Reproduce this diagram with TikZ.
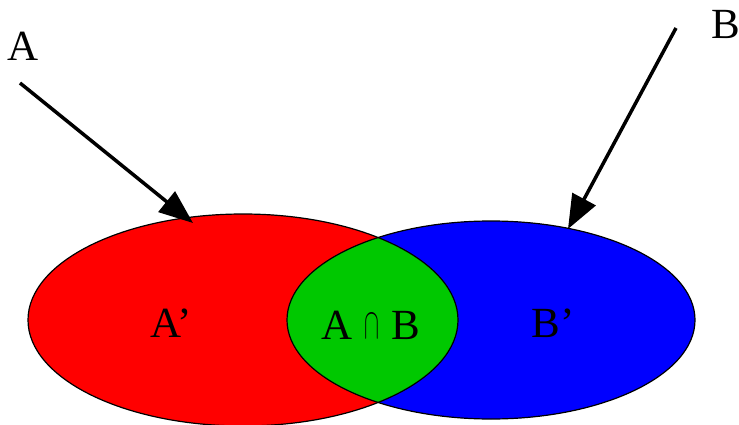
\documentclass[tikz,border=0pt]{standalone}
\usepackage{fontspec}
\setmainfont{Liberation Serif}
\usetikzlibrary{arrows.meta}

\definecolor{setred}{RGB}{255,0,0}
\definecolor{setblue}{RGB}{0,0,255}
\definecolor{setgreen}{RGB}{0,200,0}

\tikzset{
  setlabel/.style={font=\fontsize{43}{45}\selectfont, inner sep=0pt},
  outerlabel/.style={font=\fontsize{43}{45}\selectfont, inner sep=0pt},
  pointer/.style={line width=3.5pt, -{Triangle[length=34pt,width=26pt]}},
  rim/.style={draw=black, line width=1.2pt}
}

\begin{document}
\begin{tikzpicture}[x=1pt,y=-1pt]
  \useasboundingbox (0,0) rectangle (739,425);
  \coordinate (cA) at (243,320);
  \coordinate (cB) at (491,320);

  \fill[setred] (cA) ellipse [x radius=215pt, y radius=106pt];
  \fill[setblue] (cB) ellipse [x radius=204pt, y radius=99pt];
  \begin{scope}
    \clip (cA) ellipse [x radius=215pt, y radius=106pt];
    \fill[setgreen] (cB) ellipse [x radius=204pt, y radius=99pt];
  \end{scope}
  \draw[rim] (cA) ellipse [x radius=215pt, y radius=106pt];
  \draw[rim] (cB) ellipse [x radius=204pt, y radius=99pt];

  \node[setlabel] (onlyA) at (171,323) {A’};
  \node[setlabel] (both) at (371,325) {A\hspace{12pt}\raisebox{1pt}{\scalebox{0.9}[1.75]{$\cap$}}\hspace{12pt}B};
  \node[setlabel] (onlyB) at (553,323) {B’};

  \node[outerlabel] (labA) at (23,46) {A};
  \node[outerlabel] (labB) at (726,24) {B};

  \coordinate (startA) at (20,83);
  \coordinate (tipA) at (193,223);
  \coordinate (startB) at (676,28);
  \coordinate (tipB) at (568,229);
  \draw[pointer] (startA) -- (tipA);
  \draw[pointer] (startB) -- (tipB);
\end{tikzpicture}
\end{document}
